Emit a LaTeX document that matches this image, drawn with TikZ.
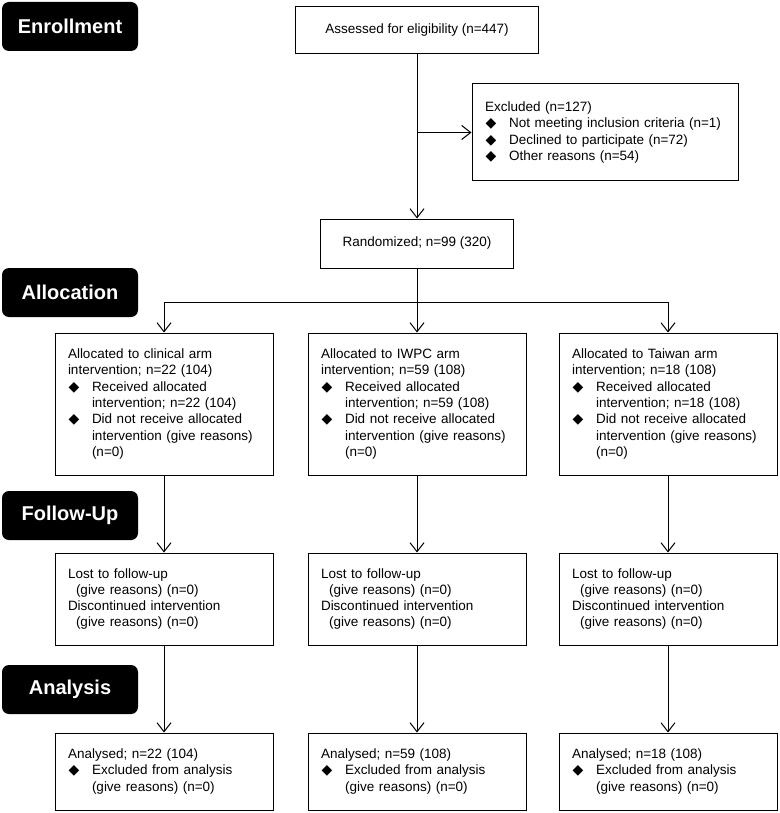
\documentclass[tikz,border=0pt]{standalone}
\usepackage{fontspec}
\setmainfont{Liberation Sans}
\newfontfamily\symfont{DejaVu Sans}
\usetikzlibrary{arrows.meta,positioning}

\newcommand{\bul}{\makebox[24pt][l]{\hspace{0.5pt}{\symfont\fontsize{14}{14}\selectfont ◆}}}
\newcommand{\ind}{\hspace*{24pt}}

\tikzset{
  stage/.style={fill=black, rounded corners=7pt, text=white, minimum width=136, minimum height=49,
    font=\bfseries\fontsize{20}{24}\selectfont},
  box/.style={draw, line width=1pt, inner xsep=13pt, inner ysep=0pt, align=left,
    font=\fontsize{13.5}{16.3}\selectfont},
  armbox/.style={box, text width=192pt},
  flow/.style={-{Straight Barb[length=9pt,width=14pt]}, line width=1pt}
}

\begin{document}
\begin{tikzpicture}[x=1pt,y=-1pt]
			\useasboundingbox (0,0) rectangle (779,813);

			% stage labels
			\node[stage] (enrollLbl) at (70,26.5) {Enrollment};
			\node[stage] (allocLbl) at (70,292.5) {Allocation};
			\node[stage] (followLbl) at (70,515.5) {Follow-Up};
			\node[stage] (analysisLbl) at (70,689.5) {Analysis};

			% enrollment
			\node[box, align=center, minimum width=243, minimum height=47] (assess) at (417,30.5) {Assessed for eligibility (n=447)};
			\node[box, text width=240pt, minimum height=97] (excl) at (605,132.5) {Excluded (n=127)\\
				\bul Not meeting inclusion criteria (n=1)\\
				\bul Declined to participate (n=72)\\
				\bul Other reasons (n=54)};
			\node[box, align=center, minimum width=193, minimum height=49] (rand) at (417,243.5) {Randomized; n=99 (320)};

			% allocation
			\node[armbox, minimum height=142] (allocA) at (164,404) {Allocated to clinical arm\\
				intervention; n=22 (104)\\
				\bul Received allocated\\
				\ind intervention; n=22 (104)\\
				\bul Did not receive allocated\\
				\ind intervention (give reasons)\\
				\ind (n=0)};
			\node[armbox, minimum height=142] (allocB) at (417,404) {Allocated to IWPC arm\\
				intervention; n=59 (108)\\
				\bul Received allocated\\
				\ind intervention; n=59 (108)\\
				\bul Did not receive allocated\\
				\ind intervention (give reasons)\\
				\ind (n=0)};
			\node[armbox, minimum height=142] (allocC) at (668,404) {Allocated to Taiwan arm\\
				intervention; n=18 (108)\\
				\bul Received allocated\\
				\ind intervention; n=18 (108)\\
				\bul Did not receive allocated\\
				\ind intervention (give reasons)\\
				\ind (n=0)};

			% follow-up
			\node[armbox, minimum height=92] (lostA) at (164,599) {Lost to follow-up\\
				\hspace*{8pt}(give reasons) (n=0)\\
				Discontinued intervention\\
				\hspace*{8pt}(give reasons) (n=0)};
			\node[armbox, minimum height=92] (lostB) at (417,599) {Lost to follow-up\\
				\hspace*{8pt}(give reasons) (n=0)\\
				Discontinued intervention\\
				\hspace*{8pt}(give reasons) (n=0)};
			\node[armbox, minimum height=92] (lostC) at (668,599) {Lost to follow-up\\
				\hspace*{8pt}(give reasons) (n=0)\\
				Discontinued intervention\\
				\hspace*{8pt}(give reasons) (n=0)};

			% analysis
			\node[armbox, minimum height=77] (anaA) at (164,771.5) {Analysed; n=22 (104)\\
				\bul Excluded from analysis\\
				\ind (give reasons) (n=0)};
			\node[armbox, minimum height=77] (anaB) at (417,771.5) {Analysed; n=59 (108)\\
				\bul Excluded from analysis\\
				\ind (give reasons) (n=0)};
			\node[armbox, minimum height=77] (anaC) at (668,771.5) {Analysed; n=18 (108)\\
				\bul Excluded from analysis\\
				\ind (give reasons) (n=0)};

			% connectors
			\coordinate (exclSplit) at (assess.south |- excl.west);
			\coordinate (armSplit) at (417,302);
			\draw[flow] (assess) -- (rand);
			\draw[flow] (exclSplit) -- (excl.west);
			\draw[line width=1pt] (rand) -- (armSplit);
			\draw[flow] (armSplit) -| (allocA.north);
			\draw[flow] (armSplit) -- (allocB.north);
			\draw[flow] (armSplit) -| (allocC.north);
			\draw[flow] (allocA) -- (lostA);
			\draw[flow] (allocB) -- (lostB);
			\draw[flow] (allocC) -- (lostC);
			\draw[flow] (lostA) -- (anaA);
			\draw[flow] (lostB) -- (anaB);
			\draw[flow] (lostC) -- (anaC);
		\end{tikzpicture}
\end{document}
